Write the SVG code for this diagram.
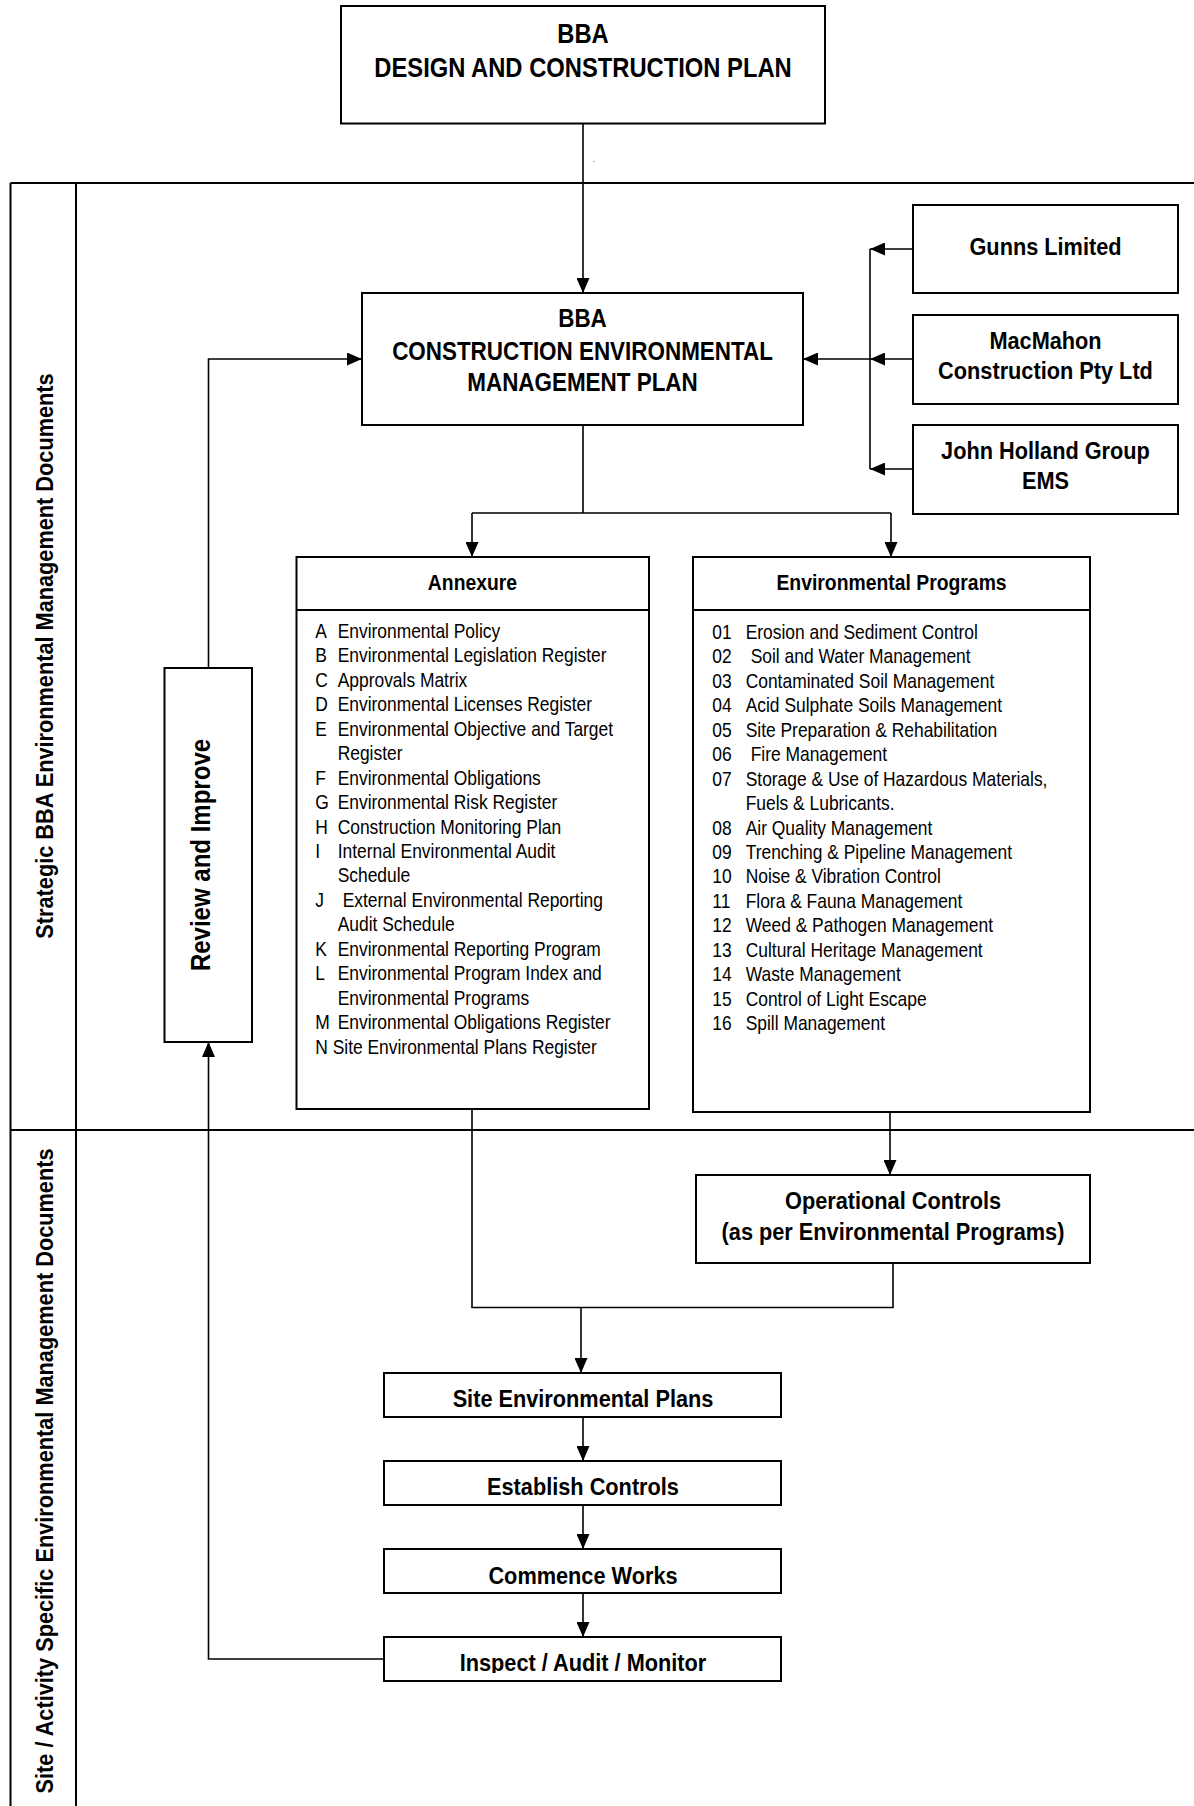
<svg xmlns="http://www.w3.org/2000/svg" width="1194" height="1806" viewBox="0 0 1194 1806">
<style>
text{font-family:"Liberation Sans",Arial,sans-serif;fill:#000}
.b{font-weight:bold;text-anchor:middle}
.f27{font-size:27px}
.f255{font-size:25.5px}
.f247{font-size:24.7px}
.f273{font-size:27.3px}
.f22{font-size:22px}
.li{font-size:19.8px}
.box{fill:#fff;stroke:#000;stroke-width:2}
.c{fill:none;stroke:#000;stroke-width:1.6}
.ca{fill:none;stroke:#000;stroke-width:1.6;marker-end:url(#ah)}
.lane{fill:none;stroke:#000;stroke-width:2}
</style>
<defs>
<marker id="ah" markerUnits="userSpaceOnUse" markerWidth="15" markerHeight="13" refX="15" refY="6.5" orient="auto" viewBox="0 0 15 13">
<path d="M0,0 L15,6.5 L0,13 z" fill="#000"/>
</marker>
<clipPath id="clipInspect"><rect x="384" y="1637" width="397" height="36"/></clipPath>
</defs>
<rect width="1194" height="1806" fill="#fff"/>

<g id="lanes">
<path class="lane" d="M10.5,183 H1194 M10.5,1130 H1194 M10.5,183 V1806 M76,183 V1806"/>
<text class="b f247" transform="translate(53 656) rotate(-90) scale(.88 1)">Strategic BBA Environmental Management Documents</text>
<text class="b f247" transform="translate(53 1471) rotate(-90) scale(.88 1)">Site / Activity Specific Environmental Management Documents</text>
</g>

<g id="connectors">
<path class="ca" d="M583,124 V293"/>
<path class="ca" d="M913,249 H870"/>
<path class="ca" d="M913,359 H870"/>
<path class="ca" d="M913,469 H870"/>
<path class="c" d="M870,249 V469"/>
<path class="ca" d="M870,359 H803"/>
<path class="c" d="M583,425 V513 M472,513 H891"/>
<path class="ca" d="M472,513 V557"/>
<path class="ca" d="M891,513 V557"/>
<path class="c" d="M472,1109 V1307.5 H893 V1263"/>
<path class="ca" d="M890,1112 V1175"/>
<path class="ca" d="M581,1307.5 V1373"/>
<path class="ca" d="M583,1417 V1461"/>
<path class="ca" d="M583,1505 V1549"/>
<path class="ca" d="M583,1593 V1637"/>
<path class="ca" d="M384,1659 H208.5 V1042"/>
<path class="ca" d="M208.5,668 V359 H362"/>
</g>

<g id="design-plan">
<rect class="box" x="341" y="6" width="484" height="117.5"/>
<text class="b f27" transform="translate(583 43) scale(.88 1)">BBA</text>
<text class="b f27" transform="translate(583 77) scale(.88 1)">DESIGN AND CONSTRUCTION PLAN</text>
</g>
<text x="593" y="162" font-size="8">.</text>

<g id="cemp">
<rect class="box" x="362" y="293" width="441" height="132"/>
<text class="b f255" transform="translate(582.5 327) scale(.88 1)">BBA</text>
<text class="b f255" transform="translate(582.5 359.5) scale(.88 1)">CONSTRUCTION ENVIRONMENTAL</text>
<text class="b f255" transform="translate(582.5 391) scale(.88 1)">MANAGEMENT PLAN</text>
</g>

<g id="gunns">
<rect class="box" x="913" y="205" width="265" height="88"/>
<text class="b f247" transform="translate(1045.5 255) scale(.88 1)">Gunns Limited</text>
</g>
<g id="macmahon">
<rect class="box" x="913" y="315" width="265" height="89"/>
<text class="b f247" transform="translate(1045.5 349) scale(.88 1)">MacMahon</text>
<text class="b f247" transform="translate(1045.5 379) scale(.88 1)">Construction Pty Ltd</text>
</g>
<g id="john-holland">
<rect class="box" x="913" y="425" width="265" height="89"/>
<text class="b f247" transform="translate(1045.5 459) scale(.88 1)">John Holland Group</text>
<text class="b f247" transform="translate(1045.5 489) scale(.88 1)">EMS</text>
</g>

<g id="review">
<rect class="box" x="164.5" y="668" width="87.5" height="374"/>
<text class="b f273" transform="translate(210 855) rotate(-90) scale(.88 1)">Review and Improve</text>
</g>

<g id="annexure">
<rect class="box" x="296.5" y="557" width="352.5" height="552"/>
<path class="lane" d="M296.5,610 H649"/>
<text class="b f22" transform="translate(472.5 590) scale(.88 1)">Annexure</text>
<g class="li" transform="translate(337.7 0) scale(.88 1)">
<text y="638"><tspan x="-25.5">A</tspan><tspan x="0">Environmental Policy</tspan></text>
<text y="662.45"><tspan x="-25.5">B</tspan><tspan x="0">Environmental Legislation Register</tspan></text>
<text y="686.9"><tspan x="-25.5">C</tspan><tspan x="0">Approvals Matrix</tspan></text>
<text y="711.35"><tspan x="-25.5">D</tspan><tspan x="0">Environmental Licenses Register</tspan></text>
<text y="735.8"><tspan x="-25.5">E</tspan><tspan x="0">Environmental Objective and Target</tspan></text>
<text x="0" y="760.25">Register</text>
<text y="784.7"><tspan x="-25.5">F</tspan><tspan x="0">Environmental Obligations</tspan></text>
<text y="809.15"><tspan x="-25.5">G</tspan><tspan x="0">Environmental Risk Register</tspan></text>
<text y="833.6"><tspan x="-25.5">H</tspan><tspan x="0">Construction Monitoring Plan</tspan></text>
<text y="858.05"><tspan x="-25.5">I</tspan><tspan x="0">Internal Environmental Audit</tspan></text>
<text x="0" y="882.5">Schedule</text>
<text y="906.95"><tspan x="-25.5">J</tspan><tspan x="5.7">External Environmental Reporting</tspan></text>
<text x="0" y="931.4">Audit Schedule</text>
<text y="955.85"><tspan x="-25.5">K</tspan><tspan x="0">Environmental Reporting Program</tspan></text>
<text y="980.3"><tspan x="-25.5">L</tspan><tspan x="0">Environmental Program Index and</tspan></text>
<text x="0" y="1004.75">Environmental Programs</text>
<text y="1029.2"><tspan x="-25.5">M</tspan><tspan x="0">Environmental Obligations Register</tspan></text>
<text x="-25.5" y="1053.65">N Site Environmental Plans Register</text>
</g>
</g>

<g id="env-programs">
<rect class="box" x="693" y="557" width="397" height="555"/>
<path class="lane" d="M693,610 H1090"/>
<text class="b f22" transform="translate(891.5 590) scale(.88 1)">Environmental Programs</text>
<g class="li" transform="translate(745.7 0) scale(.88 1)">
<text y="639"><tspan x="-38">01</tspan><tspan x="0">Erosion and Sediment Control</tspan></text>
<text y="663.45"><tspan x="-38">02</tspan><tspan x="5.7">Soil and Water Management</tspan></text>
<text y="687.9"><tspan x="-38">03</tspan><tspan x="0">Contaminated Soil Management</tspan></text>
<text y="712.35"><tspan x="-38">04</tspan><tspan x="0">Acid Sulphate Soils Management</tspan></text>
<text y="736.8"><tspan x="-38">05</tspan><tspan x="0">Site Preparation &amp; Rehabilitation</tspan></text>
<text y="761.25"><tspan x="-38">06</tspan><tspan x="5.7">Fire Management</tspan></text>
<text y="785.7"><tspan x="-38">07</tspan><tspan x="0">Storage &amp; Use of Hazardous Materials,</tspan></text>
<text x="0" y="810.15">Fuels &amp; Lubricants.</text>
<text y="834.6"><tspan x="-38">08</tspan><tspan x="0">Air Quality Management</tspan></text>
<text y="859.05"><tspan x="-38">09</tspan><tspan x="0">Trenching &amp; Pipeline Management</tspan></text>
<text y="883.5"><tspan x="-38">10</tspan><tspan x="0">Noise &amp; Vibration Control</tspan></text>
<text y="907.95"><tspan x="-38">11</tspan><tspan x="0">Flora &amp; Fauna Management</tspan></text>
<text y="932.4"><tspan x="-38">12</tspan><tspan x="0">Weed &amp; Pathogen Management</tspan></text>
<text y="956.85"><tspan x="-38">13</tspan><tspan x="0">Cultural Heritage Management</tspan></text>
<text y="981.3"><tspan x="-38">14</tspan><tspan x="0">Waste Management</tspan></text>
<text y="1005.75"><tspan x="-38">15</tspan><tspan x="0">Control of Light Escape</tspan></text>
<text y="1030.2"><tspan x="-38">16</tspan><tspan x="0">Spill Management</tspan></text>
</g>
</g>

<g id="operational-controls">
<rect class="box" x="696" y="1175" width="394" height="88"/>
<text class="b f247" transform="translate(893 1209) scale(.88 1)">Operational Controls</text>
<text class="b f247" transform="translate(893 1240) scale(.88 1)">(as per Environmental Programs)</text>
</g>

<g id="site-plans">
<rect class="box" x="384" y="1373" width="397" height="44"/>
<text class="b f247" transform="translate(583 1407) scale(.88 1)">Site Environmental Plans</text>
</g>
<g id="establish">
<rect class="box" x="384" y="1461" width="397" height="44"/>
<text class="b f247" transform="translate(583 1495) scale(.88 1)">Establish Controls</text>
</g>
<g id="commence">
<rect class="box" x="384" y="1549" width="397" height="44"/>
<text class="b f247" transform="translate(583 1584) scale(.88 1)">Commence Works</text>
</g>
<g id="inspect">
<rect class="box" x="384" y="1637" width="397" height="44"/>
<g clip-path="url(#clipInspect)">
<text class="b f247" transform="translate(583 1671) scale(.88 1)">Inspect / Audit / Monitor</text>
</g>
</g>
</svg>
